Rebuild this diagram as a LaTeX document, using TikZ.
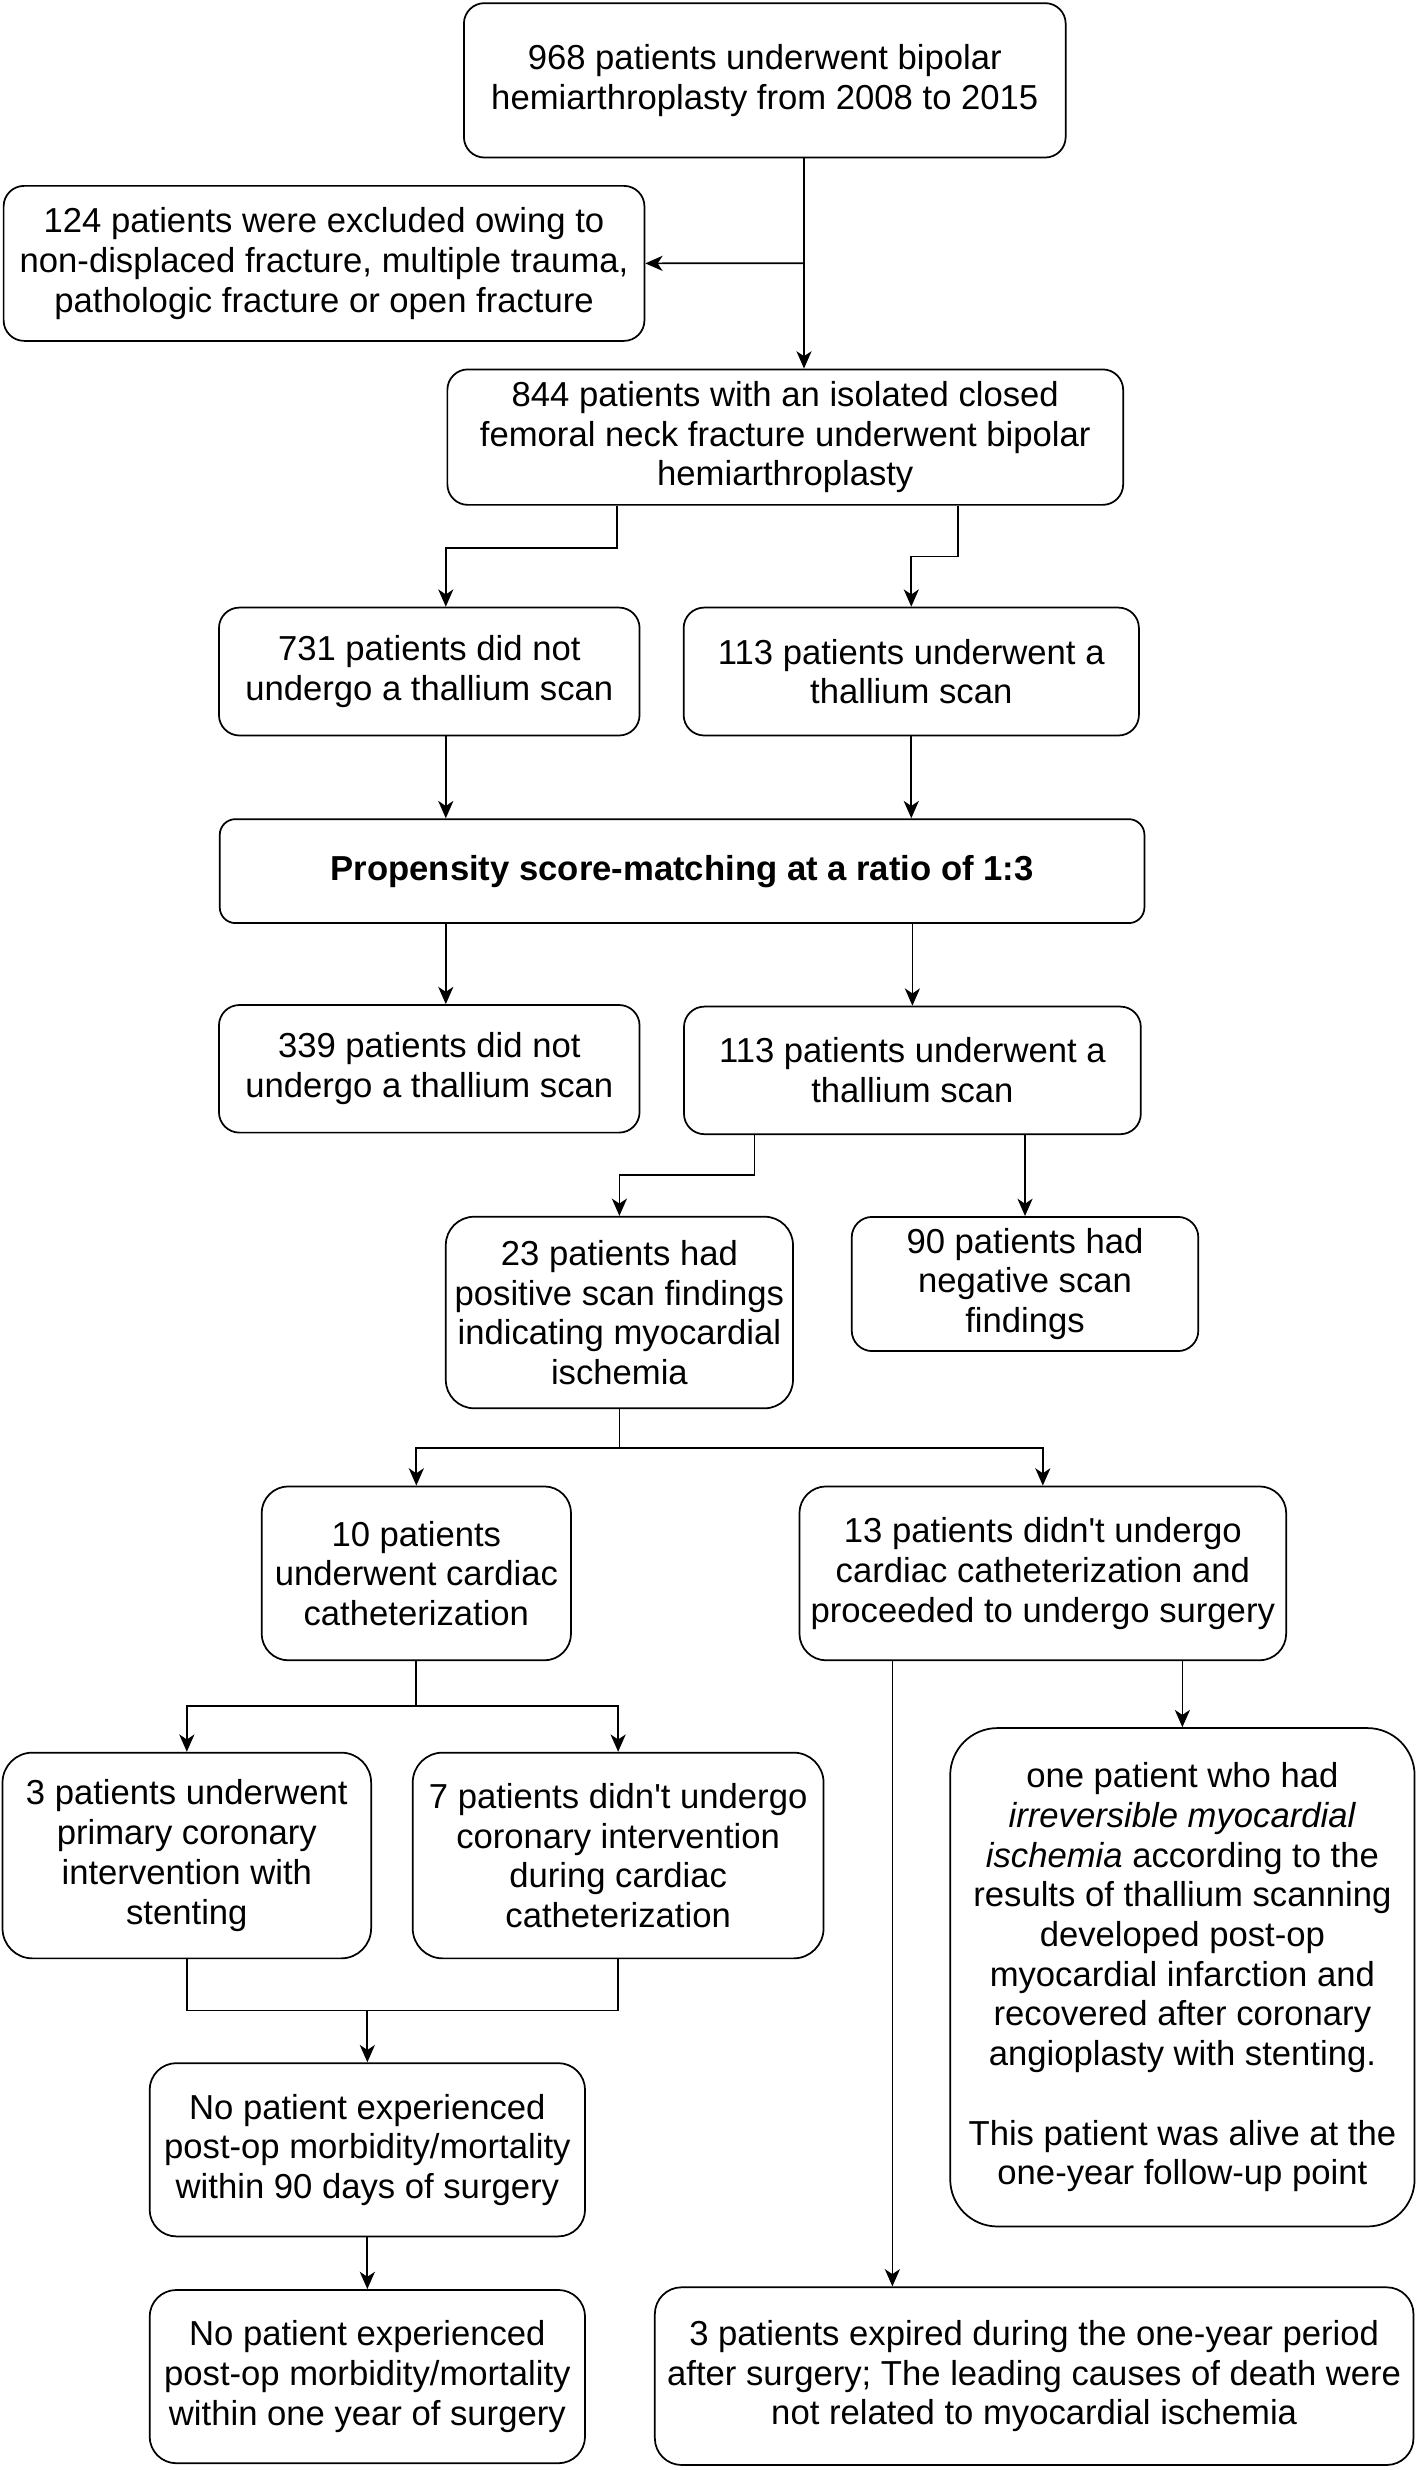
\documentclass[tikz,border=0pt]{standalone}
\usepackage{fontspec}
\setmainfont{Liberation Sans}
\usetikzlibrary{arrows.meta}

\begin{document}
\begin{tikzpicture}[x=0.5pt, y=-0.5pt,
		box/.style={draw, line width=0.55pt, rounded corners=#1, align=center, inner sep=0pt, font=\fontsize{11}{12.6}\selectfont},
		box/.default=6.5pt,
		link/.style={draw, line width=0.55pt},
		arr/.style={link, -{Stealth[length=5.5pt, width=4.8pt, inset=1.6pt]}}]
			%%%%% START %%%%%
			\useasboundingbox (0,0) rectangle (900,1568);
			
			\node[box, minimum width=191pt, minimum height=49pt] (top) at (485.5,51) {968 patients underwent bipolar\\hemiarthroplasty from 2008 to 2015};
			\node[box, minimum width=203.4pt, minimum height=49.2pt] (excl) at (205.7,167.2) {124 patients were excluded owing to\\non-displaced fracture, multiple trauma,\\pathologic fracture or open fracture};
			\node[box, minimum width=214.5pt, minimum height=43pt] (n844) at (498.5,277.5) {844 patients with an isolated closed\\femoral neck fracture underwent bipolar\\hemiarthroplasty};
			
			\node[box, minimum width=133.5pt, minimum height=40.6pt] (n731) at (272.5,426.3) {731 patients did not\\undergo a thallium scan};
			\node[box, minimum width=144.5pt, minimum height=40.6pt] (n113) at (578.5,426.3) {113 patients underwent a\\thallium scan};
			
			\node[box=5pt, minimum width=293.5pt, minimum height=33pt, font=\fontsize{11}{12.6}\selectfont\bfseries] (prop) at (433,553) {Propensity score-matching at a ratio of 1:3};
			
			\node[box, minimum width=133.5pt, minimum height=40.5pt] (n339) at (272.5,678.5) {339 patients did not\\undergo a thallium scan};
			\node[box, minimum width=145pt, minimum height=40.5pt] (n113b) at (579.2,679.5) {113 patients underwent a\\thallium scan};
			
			\node[box=9pt, minimum width=110.2pt, minimum height=60.8pt] (n23) at (393.2,833.2) {23 patients had\\positive scan findings\\indicating myocardial\\ischemia};
			\node[box, minimum width=110pt, minimum height=42.6pt] (n90) at (650.7,815.1) {90 patients had\\negative scan\\findings};
			
			\node[box=8.5pt, minimum width=98.2pt, minimum height=55.2pt] (n10) at (264.3,998.8) {10 patients\\underwent cardiac\\catheterization};
			\node[box=8.5pt, minimum width=154.5pt, minimum height=55.2pt] (n13) at (662,998.8) {13 patients didn\textquotesingle t undergo\\cardiac catheterization and\\proceeded to undergo surgery};
			
			\node[box=9.5pt, minimum width=117pt, minimum height=65.3pt] (n3) at (118.6,1177.9) {3 patients underwent\\primary coronary\\intervention with\\stenting};
			\node[box=9.5pt, minimum width=130.4pt, minimum height=65.3pt] (n7) at (392.4,1177.9) {7 patients didn\textquotesingle t undergo\\coronary intervention\\during cardiac\\catheterization};
			
			\node[box=15pt, minimum width=147.4pt, minimum height=158.2pt] (one) at (750.6,1255.2) {one patient who had\\\textit{irreversible myocardial}\\\textit{ischemia} according to the\\results of thallium scanning\\developed post-op\\myocardial infarction and\\recovered after coronary\\angioplasty with stenting.\\[12.6pt]This patient was alive at the\\one-year follow-up point};
			
			\node[box=8.5pt, minimum width=138.2pt, minimum height=55pt] (np90) at (233.2,1364.7) {No patient experienced\\post-op morbidity/mortality\\within 90 days of surgery};
			\node[box=8.5pt, minimum width=138.2pt, minimum height=55pt] (np1y) at (233.2,1508.7) {No patient experienced\\post-op morbidity/mortality\\within one year of surgery};
			\node[box=8.5pt, minimum width=240.8pt, minimum height=56.4pt] (exp) at (656.5,1508.4) {3 patients expired during the one-year period\\after surgery; The leading causes of death were\\not related to myocardial ischemia};
			
			% bends and columns
			\coordinate (split) at (510.4,167.1);
			\coordinate (b844l) at (391.5,348);
			\coordinate (b844r) at (608,353.3);
			\coordinate (colL) at (283,0);
			\coordinate (b113) at (479,746);
			\coordinate (b23) at (393.2,919.3);
			\coordinate (b10) at (264.3,1083);
			\coordinate (j37) at (233.2,1276.3);
			\coordinate (colE) at (566.5,0);
			
			\draw[link] (top.south -| split) -- (split);
			\draw[arr] (split) -- (excl.east);
			\draw[arr] (split) -- (n844.north -| split);
			
			\draw[arr] (n844.south -| b844l) -- (b844l) -| (n731.north -| colL);
			\draw[arr] (n844.south -| b844r) -- (b844r) -| (n113.north);
			
			\draw[arr] (n731.south -| colL) -- (prop.north -| colL);
			\draw[arr] (n113.south) -- (prop.north -| n113.south);
			\draw[arr] (prop.south -| colL) -- (n339.north -| colL);
			\draw[arr] (prop.south -| n113b.north) -- (n113b.north);
			
			\draw[arr] (n113b.south -| b113) -- (b113) -| (n23.north);
			\draw[arr] (n113b.south -| n90.north) -- (n90.north);
			
			\draw[link] (n23.south) -- (b23);
			\draw[arr] (b23) -| (n10.north);
			\draw[arr] (b23) -| (n13.north);
			
			\draw[link] (n10.south) -- (b10);
			\draw[arr] (b10) -| (n3.north);
			\draw[arr] (b10) -| (n7.north);
			
			\draw[link] (n3.south) |- (j37) -| (n7.south);
			\draw[arr] (j37) -- (np90.north);
			\draw[arr] (np90.south) -- (np1y.north);
			
			\draw[arr] (n13.south -| colE) -- (exp.north -| colE);
			\draw[arr] (n13.south -| one.north) -- (one.north);
			
			%%%%% END %%%%%
\end{tikzpicture}
\end{document}
